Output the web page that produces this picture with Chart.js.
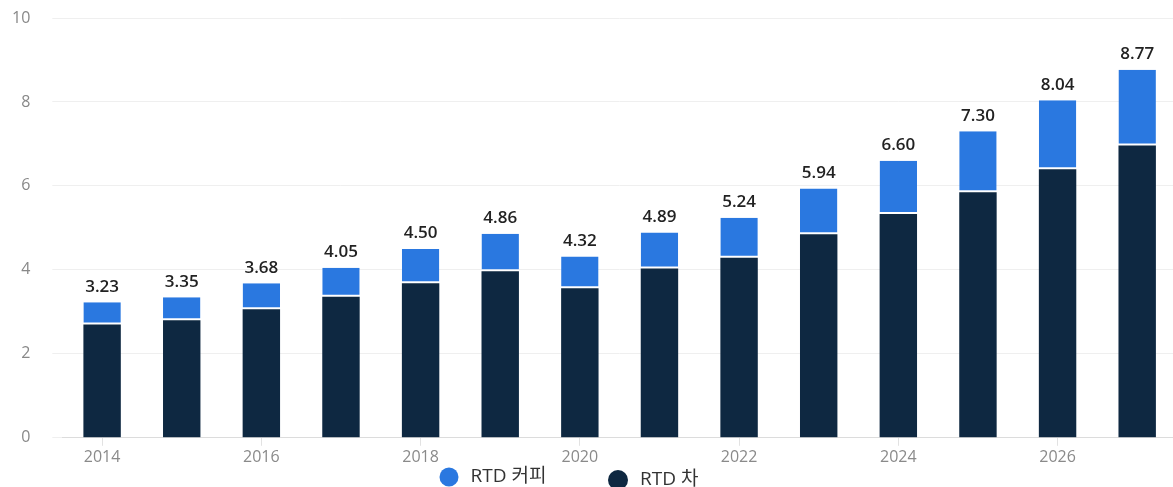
<!DOCTYPE html>
<html>
<head>
<meta charset="utf-8">
<script src="https://cdn.jsdelivr.net/npm/chart.js@4"></script>
<style>
  html, body { margin: 0; padding: 0; background: #fff; overflow: hidden; }
  #wrap { width: 1180px; height: 487px; }
</style>
</head>
<body>
<div id="wrap"><canvas id="chart"></canvas></div>
<script>
const years = ["2014", "2015", "2016", "2017", "2018", "2019", "2020", "2021", "2022", "2023", "2024", "2025", "2026", "2027"];
const teaValues = [2.70, 2.80, 3.06, 3.36, 3.68, 3.97, 3.56, 4.03, 4.29, 4.85, 5.33, 5.85, 6.40, 6.96];
const coffeeValues = [0.53, 0.55, 0.62, 0.69, 0.82, 0.89, 0.76, 0.86, 0.95, 1.09, 1.27, 1.45, 1.64, 1.81];
const totalLabels = ["3.23", "3.35", "3.68", "4.05", "4.50", "4.86", "4.32", "4.89", "5.24", "5.94", "6.60", "7.30", "8.04", "8.77"];
const seriesNames = ["RTD 커피", "RTD 차"];
const yTicks = [0, 2, 4, 6, 8, 10];

const FONT = "'Open Sans', 'Noto Sans CJK KR', sans-serif";
const BLUE = "#2a78e0";
const NAVY = "#0e2841";

// totals above the stacked bars
const totalsPlugin = {
  id: "totals",
  afterDatasetsDraw(chart) {
    const ctx = chart.ctx;
    const meta = chart.getDatasetMeta(1); // coffee sits on top
    ctx.save();
    ctx.font = "600 17px " + FONT;
    ctx.fillStyle = "#222";
    ctx.textAlign = "center";
    ctx.textBaseline = "bottom";
    meta.data.forEach((bar, i) => {
      ctx.fillText(totalLabels[i], bar.x, bar.y - 7);
    });
    ctx.restore();
  }
};

// legend drawn by hand below the axis
const legendPlugin = {
  id: "bottomLegend",
  afterDraw(chart) {
    const ctx = chart.ctx;
    const ds = chart.data.datasets;
    const items = [
      { x: 449, y: 477, r: 9.5, ds: ds[1] },
      { x: 618, y: 480, r: 10, ds: ds[0] }
    ];
    ctx.save();
    ctx.font = "19px " + FONT;
    ctx.textBaseline = "middle";
    ctx.textAlign = "left";
    items.forEach(it => {
      ctx.beginPath();
      ctx.arc(it.x, it.y, it.r, 0, Math.PI * 2);
      ctx.fillStyle = it.ds.backgroundColor;
      ctx.fill();
      ctx.fillStyle = "#333";
      ctx.fillText(it.ds.label, it.x + it.r + 12, it.y);
    });
    ctx.restore();
  }
};

new Chart(document.getElementById("chart"), {
  type: "bar",
  data: {
    labels: years,
    datasets: [
      {
        label: seriesNames[1],
        data: teaValues,
        backgroundColor: NAVY,
        borderWidth: 0
      },
      {
        label: seriesNames[0],
        data: coffeeValues,
        backgroundColor: BLUE,
        borderColor: "#ffffff",
        borderWidth: { top: 0, left: 0, right: 0, bottom: 2 },
        borderSkipped: false
      }
    ].map(d => ({ ...d, barPercentage: 0.47, categoryPercentage: 1 }))
  },
  options: {
    responsive: true,
    maintainAspectRatio: false,
    animation: false,
    layout: { padding: { top: 18, left: -10, right: 3, bottom: 18 } },
    plugins: {
      legend: { display: false },
      tooltip: { enabled: false }
    },
    scales: {
      x: {
        stacked: true,
        border: { display: true, color: "#dcdcdc" },
        grid: {
          offset: false,
          drawOnChartArea: false,
          drawTicks: true,
          tickLength: 8,
          color: (c) => (c.index % 2 === 0 ? "#e2e2e2" : "rgba(0,0,0,0)")
        },
        ticks: {
          autoSkip: false,
          maxRotation: 0,
          padding: 2,
          color: "#8a8a8a",
          font: { family: FONT, size: 16 },
          callback: (v, i) => (i % 2 === 0 ? years[i] : "")
        }
      },
      y: {
        stacked: true,
        min: 0,
        max: 10,
        afterBuildTicks: (axis) => { axis.ticks = yTicks.map(v => ({ value: v })); },
        // tick padding would otherwise push the plot down
        afterFit: (axis) => { axis.paddingTop = 0; axis.paddingBottom = 0; },
        border: { display: false },
        grid: { color: "#efefef", tickLength: 10 },
        ticks: {
          padding: 22,
          color: "#888",
          font: { family: FONT, size: 16 }
        }
      }
    }
  },
  plugins: [totalsPlugin, legendPlugin]
});
</script>
</body>
</html>
